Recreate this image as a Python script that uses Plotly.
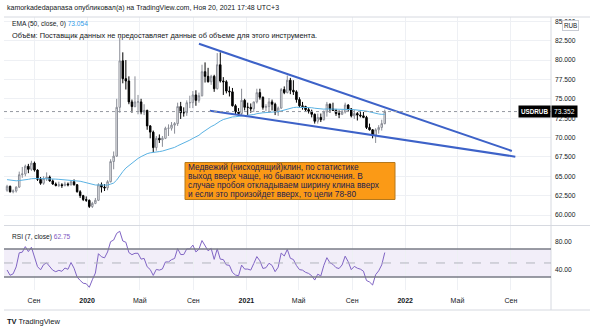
import pandas as pd
import plotly.graph_objects as go

# ---------------- data (weekly USDRUB) ----------------
week_start = "2019-07-01"
opens = [63.2, 63.7, 63.0, 63.1, 63.6, 65.2, 65.3, 66.3, 65.9, 66.7,
         65.8, 64.6, 64.1, 64.7, 64.9, 64.4, 64.0, 63.8, 63.9, 63.8,
         64.0, 63.9, 64.3, 63.9, 63.0, 62.5, 62.0, 61.9, 61.1, 61.5,
         61.9, 63.9, 63.6, 63.5, 64.3, 66.9, 67.6, 73.9, 79.9, 77.6,
         77.3, 74.6, 74.0, 74.6, 74.6, 73.3, 73.5, 71.5, 70.7, 68.7,
         69.9, 69.7, 69.9, 71.2, 71.2, 71.6, 71.8, 74.0, 73.2, 73.2,
         74.5, 74.5, 75.5, 74.8, 75.4, 78.5, 77.9, 77.2, 77.9, 76.3,
         79.4, 77.3, 77.2, 76.0, 75.9, 74.1, 73.3, 73.1, 74.8, 73.9,
         73.9, 73.7, 74.6, 75.8, 75.2, 73.9, 74.0, 74.6, 74.3, 73.3,
         73.8, 76.2, 75.8, 77.4, 76.1, 75.9, 74.9, 74.1, 74.0, 73.6,
         73.4, 73.0, 72.1, 72.6, 72.3, 73.3, 74.3, 73.7, 73.5, 73.1,
         73.0, 73.3, 74.2, 73.7, 72.8, 73.1, 72.9, 72.8, 72.6, 71.3,
         71.0, 70.3, 71.0, 71.3, 71.8]
highs = [63.9, 63.8, 63.3, 63.7, 65.6, 66.2, 66.5, 66.6, 67.0, 66.9,
         65.9, 64.9, 65.0, 65.5, 65.1, 64.6, 64.2, 64.3, 64.1, 64.3,
         64.2, 64.5, 64.6, 64.0, 63.2, 62.6, 62.4, 62.0, 61.7, 62.2,
         64.1, 64.2, 64.0, 64.5, 67.2, 68.2, 75.0, 82.9, 81.0, 80.0,
         77.9, 74.9, 77.9, 75.5, 75.0, 74.3, 73.6, 71.6, 70.9, 70.2,
         70.4, 70.2, 71.4, 71.7, 72.0, 72.0, 74.5, 74.6, 73.9, 74.8,
         75.4, 76.0, 76.1, 75.8, 79.4, 79.7, 79.0, 78.1, 78.1, 80.9,
         81.0, 77.8, 77.4, 76.6, 76.4, 74.3, 73.8, 76.3, 75.0, 74.5,
         74.4, 74.6, 76.3, 76.3, 75.3, 74.3, 75.1, 74.9, 74.5, 74.0,
         76.4, 76.6, 78.0, 77.7, 77.4, 76.1, 75.2, 74.6, 74.1, 73.9,
         73.6, 73.1, 73.1, 73.1, 73.5, 74.6, 74.4, 74.5, 73.7, 73.5,
         73.6, 74.5, 74.3, 73.8, 73.6, 73.3, 73.5, 73.3, 72.8, 71.8,
         71.1, 71.2, 71.6, 72.3, 73.6]
lows = [63.0, 62.9, 62.8, 62.9, 63.5, 64.8, 65.0, 65.4, 65.7, 65.6,
        64.4, 63.9, 63.9, 64.4, 64.3, 63.9, 63.7, 63.6, 63.5, 63.7,
        63.7, 63.8, 63.8, 62.9, 62.2, 61.8, 61.7, 60.9, 60.9, 61.4,
        61.8, 62.9, 63.1, 63.2, 64.2, 65.9, 67.5, 73.2, 77.0, 76.2,
        74.3, 73.2, 73.9, 73.0, 73.0, 72.9, 71.0, 69.9, 68.1, 68.3,
        69.3, 68.8, 69.8, 70.2, 70.9, 70.5, 71.5, 72.4, 72.7, 72.8,
        73.8, 73.8, 74.1, 74.5, 75.3, 77.1, 77.1, 76.8, 75.9, 76.2,
        77.1, 75.5, 75.7, 75.3, 74.0, 72.9, 72.8, 72.8, 73.5, 72.9,
        73.2, 73.3, 74.4, 74.9, 73.6, 73.4, 73.2, 73.5, 72.9, 72.8,
        73.7, 75.6, 75.7, 75.6, 75.5, 74.5, 73.9, 73.6, 73.4, 73.1,
        72.6, 71.8, 71.8, 72.0, 72.2, 72.7, 73.2, 73.5, 72.8, 72.5,
        72.9, 73.1, 73.3, 72.6, 72.4, 72.2, 72.6, 72.5, 71.1, 70.9,
        69.9, 69.3, 70.5, 70.9, 71.7]
closes = [63.7, 63.0, 63.1, 63.6, 65.2, 65.3, 66.3, 65.9, 66.7, 65.8,
          64.6, 64.1, 64.7, 64.9, 64.4, 64.0, 63.8, 63.9, 63.8, 64.0,
          63.9, 64.3, 63.9, 63.0, 62.5, 62.0, 61.9, 61.1, 61.5, 61.9,
          63.9, 63.6, 63.5, 64.3, 66.9, 67.6, 73.9, 79.9, 77.6, 77.3,
          74.6, 74.0, 74.6, 74.6, 73.3, 73.5, 71.5, 70.7, 68.7, 69.9,
          69.7, 69.9, 71.2, 71.2, 71.6, 71.8, 74.0, 73.2, 73.2, 74.5,
          74.5, 75.5, 74.8, 75.4, 78.5, 77.9, 77.2, 77.9, 76.3, 79.4,
          77.3, 77.2, 76.0, 75.9, 74.1, 73.3, 73.1, 74.8, 73.9, 73.9,
          73.7, 74.6, 75.8, 75.2, 73.9, 74.0, 74.6, 74.3, 73.3, 73.8,
          76.2, 75.8, 77.4, 76.1, 75.9, 74.9, 74.1, 74.0, 73.6, 73.4,
          73.0, 72.1, 72.6, 72.3, 73.3, 74.3, 73.7, 73.5, 73.1, 73.0,
          73.3, 74.2, 73.7, 72.8, 73.1, 72.9, 72.8, 72.6, 71.3, 71.0,
          70.3, 71.0, 71.3, 71.8, 73.352]

last_price = 73.352
ema_label = "73.054"
rsi_label = "62.75"
ema_length = 50
ema_seed = 64.6
rsi_length = 7
rsi_seed_gain = 0.2
rsi_seed_loss = 0.3

# wedge (drawn trend lines)
wedge_upper_dates = ["2020-09-14", "2022-09-03"]
wedge_upper_prices = [82.1, 68.27]
wedge_lower_dates = ["2020-10-09", "2022-09-11"]
wedge_lower_prices = [73.47, 67.53]

tick_dates = ["2019-09-01", "2020-01-01", "2020-05-01", "2020-09-01", "2021-01-01",
              "2021-05-01", "2021-09-01", "2022-01-01", "2022-05-01", "2022-09-01"]
tick_text = ["Сен", "<b>2020</b>", "Май", "Сен", "<b>2021</b>",
             "Май", "Сен", "<b>2022</b>", "Май", "Сен"]
x_range = ["2019-06-24", "2022-12-02"]
price_range = [58.71, 85.56]
rsi_range = [11.4, 102.8]

header_text = "kamorkadedapanasa опубликовал(а) на TradingView.com, Ноя 20, 2021 17:48 UTC+3"
volume_text = "Объём: Поставщик данных не предоставляет данные об объеме для этого инструмента."
note_lines = ["Медвежий (нисходящий)клин, по статистике",
              "выход вверх чаще, но бывают исключения. В",
              "случае пробоя откладываем ширину клина вверх",
              "и если это произойдет вверх, то цели 78-80"]

# ---------------- indicators ----------------
dates = pd.date_range(week_start, periods=len(closes), freq="7D")

alpha = 2 / (ema_length + 1)
ema = []
prev = ema_seed
for c in closes:
    prev = prev + alpha * (c - prev)
    ema.append(prev)

rsi = []
ag, al = rsi_seed_gain, rsi_seed_loss
pc = None
for c in closes:
    if pc is not None:
        ch = c - pc
        ag = (ag * (rsi_length - 1) + max(ch, 0)) / rsi_length
        al = (al * (rsi_length - 1) + max(-ch, 0)) / rsi_length
    rsi.append(100 - 100 / (1 + ag / al) if al > 0 else 100)
    pc = c

# ---------------- figure ----------------
W, H = 590, 329
L, R, T, B = 4, 39, 17, 39
PW, PH = W - L - R, H - T - B
FONT = "Liberation Sans"
TXT = "#131722"


def px(x):
    return (x - L) / PW


def py(y):
    return (H - B - y) / PH


fig = go.Figure()
fig.add_trace(go.Candlestick(
    x=dates, open=opens, high=highs, low=lows, close=closes,
    increasing=dict(fillcolor="#ffffff", line=dict(color="#8a8d96", width=1)),
    decreasing=dict(fillcolor="#000000", line=dict(color="#000000", width=1)),
    whiskerwidth=0, xaxis="x", yaxis="y", showlegend=False, hoverinfo="skip"))
fig.add_trace(go.Scatter(x=dates, y=ema, mode="lines", line=dict(color="#5ab2e3", width=1),
                         xaxis="x", yaxis="y", showlegend=False, hoverinfo="skip"))
fig.add_trace(go.Scatter(x=wedge_upper_dates, y=wedge_upper_prices, mode="lines",
                         line=dict(color="#3d62c8", width=2), xaxis="x", yaxis="y",
                         showlegend=False, hoverinfo="skip"))
fig.add_trace(go.Scatter(x=wedge_lower_dates, y=wedge_lower_prices, mode="lines",
                         line=dict(color="#3d62c8", width=2), xaxis="x", yaxis="y",
                         showlegend=False, hoverinfo="skip"))
fig.add_trace(go.Scatter(x=dates, y=rsi, mode="lines", line=dict(color="#8064c4", width=1),
                         xaxis="x2", yaxis="y2", showlegend=False, hoverinfo="skip"))

grid = "#eef0f4"
fig.update_layout(
    width=W, height=H, margin=dict(l=L, r=R, t=T, b=B),
    paper_bgcolor="white", plot_bgcolor="white",
    font=dict(family=FONT, color=TXT, size=7),
    xaxis=dict(domain=[0, 1], anchor="y", range=x_range, type="date",
               tickvals=tick_dates, ticktext=tick_text, showticklabels=False,
               showgrid=True, gridcolor=grid, gridwidth=1, zeroline=False,
               rangeslider=dict(visible=False), showline=False),
    xaxis2=dict(domain=[0, 1], anchor="y2", range=x_range, type="date",
                tickvals=tick_dates, ticktext=tick_text, showticklabels=True,
                tickfont=dict(size=7, color=TXT, family=FONT), ticklabelstandoff=5,
                showgrid=True, gridcolor=grid, gridwidth=1, zeroline=False,
                showline=False, ticks=""),
    yaxis=dict(domain=[py(225), 1], anchor="x", side="right", range=price_range,
               tick0=60, dtick=2.5, tickformat=".3f", showgrid=True, gridcolor=grid,
               zeroline=False, tickfont=dict(size=6.7, color=TXT, family=FONT), ticks="",
               ticklabelstandoff=3),
    yaxis2=dict(domain=[0, py(226)], anchor="x2", side="right", range=rsi_range,
                tickvals=[40, 80], ticktext=["40.00", "80.00"], showgrid=False,
                zeroline=False, tickfont=dict(size=6.7, color=TXT, family=FONT), ticks="",
                ticklabelstandoff=3),
)

shapes = []
border = "#d6d9e0"
# frame lines
shapes.append(dict(type="line", xref="paper", yref="paper", x0=0, x1=px(590), y0=1, y1=1,
                   line=dict(color=border, width=1)))
shapes.append(dict(type="line", xref="paper", yref="paper", x0=0, x1=px(590), y0=py(225.5), y1=py(225.5),
                   line=dict(color=border, width=1)))
shapes.append(dict(type="line", xref="paper", yref="paper", x0=0, x1=px(590), y0=py(310), y1=py(310),
                   line=dict(color=border, width=1)))
shapes.append(dict(type="line", xref="paper", yref="paper", x0=1, x1=1, y0=py(310), y1=1,
                   line=dict(color=border, width=1)))
# RSI band
shapes.append(dict(type="rect", xref="x2 domain", yref="y2", x0=0, x1=1, y0=30, y1=70,
                   fillcolor="rgba(126,87,194,0.10)", line=dict(width=0), layer="below"))
for lvl in (70, 30):
    shapes.append(dict(type="line", xref="x2 domain", yref="y2", x0=0, x1=1, y0=lvl, y1=lvl,
                       line=dict(color="#787b86", width=1.5)))
shapes.append(dict(type="line", xref="x2 domain", yref="y2", x0=0, x1=1, y0=50, y1=50,
                   line=dict(color="#b2b5be", width=1, dash="dash")))
# last price line
shapes.append(dict(type="line", xref="x domain", yref="y", x0=0, x1=1, y0=last_price, y1=last_price,
                   line=dict(color="#9598a1", width=1, dash="dot")))
# note box
shapes.append(dict(type="rect", xref="paper", yref="paper", x0=px(185), x1=px(395),
                   y0=py(199.5), y1=py(162.5), fillcolor="#fb9a16",
                   line=dict(color="#b5781c", width=1), layer="above"))
fig.update_layout(shapes=shapes)

ann = []


def add_text(x, y, text, size=7, color=TXT, xanchor="left", **kw):
    ann.append(dict(x=px(x), y=py(y), xref="paper", yref="paper", text=text, showarrow=False,
                    xanchor=xanchor, yanchor="middle", font=dict(size=size, color=color, family=FONT),
                    **kw))


add_text(5, 8, header_text, size=7)
add_text(10, 24, f"EMA (50, close, 0) <span style='color:#2f9be8'>{ema_label}</span>", size=6.6)
add_text(10, 35, volume_text, size=7.4)
add_text(10, 237, f"RSI (7, close) <span style='color:#7e57c2'>{rsi_label}</span>", size=6.6)
add_text(5, 321, "<b>TV</b> TradingView", size=7.5)
add_text(570, 25, "RUB", size=6.3, xanchor="center", bordercolor="#c8cbd3", borderwidth=1,
         borderpad=1, bgcolor="white")
for i, line in enumerate(note_lines):
    add_text(186.5, 167.0 + i * 9.0, line, size=8.3, color="#1b2150", borderpad=0)

ann.append(dict(x=1, y=last_price, xref="paper", yref="y", text="<b>USDRUB</b>", showarrow=False,
                xanchor="right", yanchor="middle", bgcolor="#000000", borderpad=2,
                font=dict(size=6.3, color="white", family=FONT)))
ann.append(dict(x=1, y=last_price, xref="paper", yref="y", text=f"{last_price:.3f}", showarrow=False,
                xanchor="left", yanchor="middle", bgcolor="#000000", borderpad=2,
                font=dict(size=6.7, color="white", family=FONT)))
fig.update_layout(annotations=ann)

fig.write_html("out.html")
